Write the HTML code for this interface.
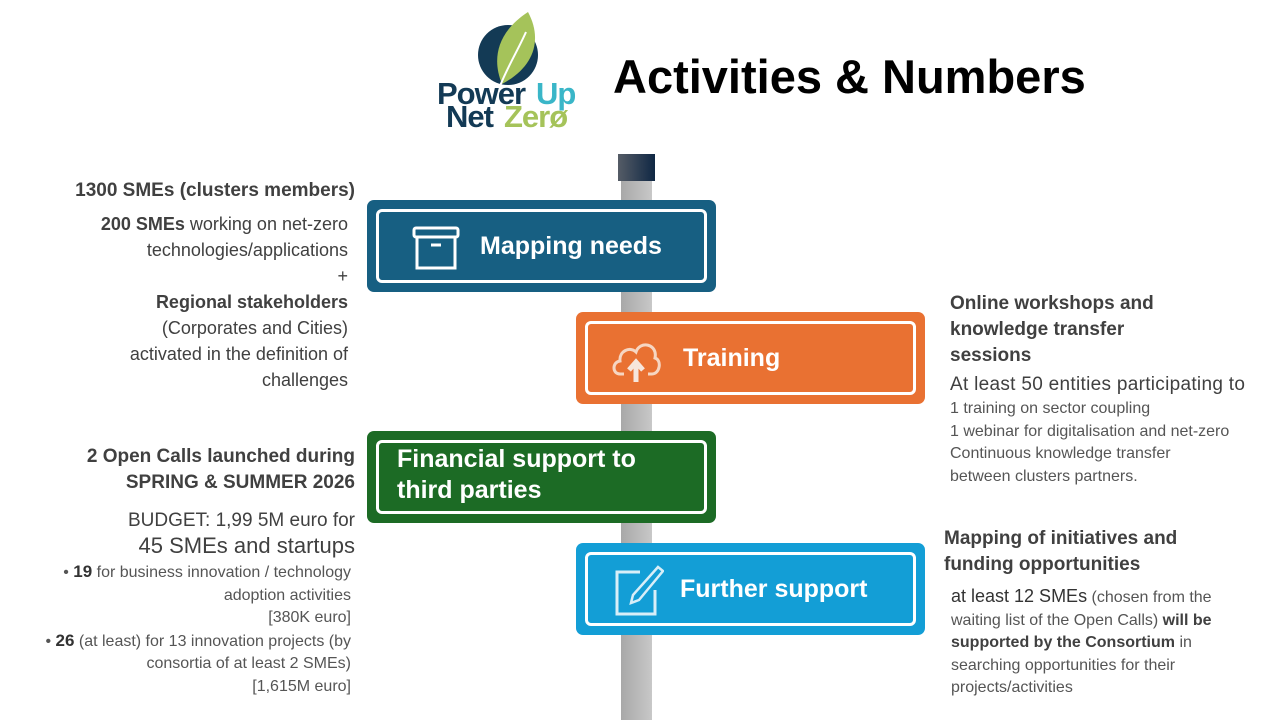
<!DOCTYPE html>
<html><head><meta charset="utf-8">
<style>
*{margin:0;padding:0;box-sizing:border-box}
body{width:1280px;height:720px;background:#fff;position:relative;overflow:hidden;font-family:"Liberation Sans",sans-serif;color:#404040}
.a{position:absolute;white-space:nowrap}
.sign{position:absolute;width:349px;height:92px;border-radius:7px}
.sign .in{position:absolute;left:9px;top:9px;right:9px;bottom:9px;border:3px solid #fff;border-radius:6px}
.sign .t{position:absolute;color:#fff;font-weight:bold;font-size:25px;white-space:nowrap}
.r{text-align:right}
</style></head><body>
<!-- logo -->
<svg class="a" style="left:436px;top:8px" width="172" height="124" viewBox="0 0 172 124">
<circle cx="72" cy="47" r="30" fill="#133a55"/>
<path d="M66 76 C56 52 60 25 92 4 C106 30 100 58 66 76 Z" fill="#a5c35a"/>
<path d="M64 78 C72 58 82 42 90 24" stroke="#fff" stroke-width="2" fill="none"/>
<text x="1" y="96" font-family="Liberation Sans" font-weight="bold" font-size="31" letter-spacing="-1" fill="#133a55">Power</text>
<text x="100" y="96" font-family="Liberation Sans" font-weight="bold" font-size="31" letter-spacing="-1" fill="#3ab6c8">Up</text>
<text x="10" y="119" font-family="Liberation Sans" font-weight="bold" font-size="31" letter-spacing="-1" fill="#133a55">Net</text>
<text x="68" y="119" font-family="Liberation Sans" font-weight="bold" font-size="31" letter-spacing="-1" fill="#a5c35a">Zerø</text>
</svg>
<div class="a" style="left:613px;top:49px;font-size:47px;font-weight:bold;color:#000">Activities &amp; Numbers</div>
<!-- pole -->
<div class="a" style="left:621px;top:181px;width:31px;height:539px;background:linear-gradient(90deg,#a8a8a8,#c8c8c8)"></div>
<div class="a" style="left:618px;top:154px;width:37px;height:27px;background:linear-gradient(90deg,#555c66,#0f2744)"></div>
<!-- signs -->
<div class="sign" style="left:367px;top:200px;background:#175f82"><div class="in"></div>
<svg class="a" style="left:45px;top:26px" width="48" height="44" viewBox="0 0 48 44"><rect x="2" y="2" width="44" height="9" rx="2" fill="none" stroke="#fff" stroke-width="3"/><rect x="5" y="11" width="38" height="31" fill="none" stroke="#fff" stroke-width="3"/><line x1="19" y1="19" x2="29" y2="19" stroke="#fff" stroke-width="3"/></svg>
<div class="t" style="left:113px;top:32px">Mapping needs</div></div>
<div class="sign" style="left:576px;top:312px;background:#e97132"><div class="in"></div>
<svg class="a" style="left:34px;top:24px" width="52" height="48" viewBox="0 0 52 48"><path d="M14 38 H10 C2 38 2 26 10 25 C9 15 20 10 26 16 C30 4 48 8 45 22 C52 24 50 38 42 38 H38" fill="none" stroke="#f6d6c2" stroke-width="3"/><path d="M26 46 V28 M19 34 L26 26 L33 34" fill="none" stroke="#f6e6dc" stroke-width="5"/></svg>
<div class="t" style="left:107px;top:32px">Training</div></div>
<div class="sign" style="left:367px;top:431px;background:#1c6b25"><div class="in"></div>
<div class="t" style="left:30px;top:13px;line-height:31px">Financial support to<br>third parties</div></div>
<div class="sign" style="left:576px;top:543px;background:#139ed6"><div class="in"></div>
<svg class="a" style="left:38px;top:22px" width="50" height="52" viewBox="0 0 50 52"><path d="M26 7 H3 V49 H41 V25" fill="none" stroke="#d8eef8" stroke-width="3"/><path d="M44 2 L49 6 L25 35 L17 38 L19 30 Z" fill="none" stroke="#d8eef8" stroke-width="2.5"/></svg>
<div class="t" style="left:104px;top:32px">Further support</div></div>
<!-- left texts -->
<div class="a r" style="right:925px;top:180px;font-size:19px;font-weight:bold;color:#404040">1300 SMEs (clusters members)</div>
<div class="a r" style="right:932px;top:211px;font-size:18px;line-height:26px;color:#404040"><b>200 SMEs</b> working on net-zero<br>technologies/applications<br>+<br><b>Regional stakeholders</b><br>(Corporates and Cities)<br>activated in the definition of<br>challenges</div>
<div class="a r" style="right:925px;top:444px;font-size:19px;font-weight:bold;line-height:26px">2 Open Calls launched during<br>SPRING &amp; SUMMER 2026</div>
<div class="a r" style="right:925px;top:509px;font-size:19px;line-height:24px">BUDGET: 1,99 5M euro for</div>
<div class="a r" style="right:925px;top:533px;font-size:22px;line-height:26px">45 SMEs and startups</div>
<div class="a r" style="right:929px;top:561px;font-size:16px;line-height:22.5px;color:#555">• <b style="color:#333;font-size:17px">19</b> for business innovation / technology<br>adoption activities<br>[380K euro]<br>• <b style="color:#333;font-size:17px">26</b> (at least) for 13 innovation projects (by<br>consortia of at least 2 SMEs)<br>[1,615M euro]</div>
<!-- right texts -->
<div class="a" style="left:950px;top:291px;font-size:19px;font-weight:bold;line-height:26px">Online workshops and<br>knowledge transfer<br>sessions</div>
<div class="a" style="left:950px;top:374px;font-size:19px;letter-spacing:0.3px">At least 50 entities participating to</div>
<div class="a" style="left:950px;top:398px;font-size:16px;line-height:22.5px;color:#555">1 training on sector coupling<br>1 webinar for digitalisation and net-zero<br>Continuous knowledge transfer<br>between clusters partners.</div>
<div class="a" style="left:944px;top:526px;font-size:19px;font-weight:bold;line-height:26px">Mapping of initiatives and<br>funding opportunities</div>
<div class="a" style="left:951px;top:585px;font-size:16px;line-height:22.5px;color:#555"><span style="font-size:18px;color:#333">at least 12 SMEs</span> (chosen from the<br>waiting list of the Open Calls) <b style="color:#404040">will be</b><br><b style="color:#404040">supported by the Consortium</b> in<br>searching opportunities for their<br>projects/activities</div>
</body></html>
